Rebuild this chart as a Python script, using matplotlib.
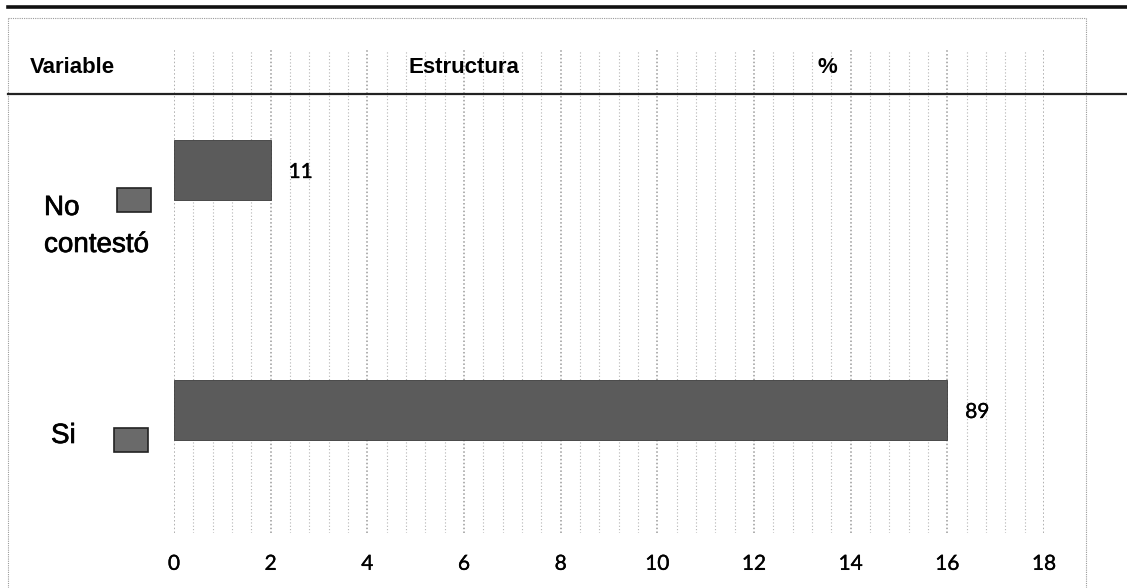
import numpy as np
import matplotlib.pyplot as plt
import matplotlib.patheffects as pe
from matplotlib.lines import Line2D
from matplotlib.patches import Rectangle

# ========================
# Data
# ========================
categories = ["Si", "No\ncontestó"]
counts = [16, 2]          # respondents per answer
percents = [89, 11]       # share of total, %
x_ticks = [0, 2, 4, 6, 8, 10, 12, 14, 16, 18]
headers = ["Variable", "Estructura", "%"]

W, H = 1127, 588
BAR_COLOR = "#5b5b5b"
GRID_COLOR = "#9a9a9a"
# slightly thicker glyphs
HEAVY = [pe.withStroke(linewidth=0.5, foreground="black")]
DIGITS = [pe.withStroke(linewidth=0.25, foreground="black")]


def px(x, y):
    """pixel position (top-left origin) -> figure fraction"""
    return x / W, 1 - y / H


fig = plt.figure(figsize=(W / 100, H / 100), dpi=100)
fig.patch.set_facecolor("white")

# plot area: x from 0 to 18, gridlines running up into the header row
left, top = px(174, 50)
right, bottom = px(1044, 533)
ax = fig.add_axes([left, bottom, right - left, top - bottom])

y_pos = np.arange(len(categories))
ax.barh(y_pos, counts, height=0.25, color=BAR_COLOR, edgecolor="#3a3a3a",
        linewidth=0.6, zorder=3)

for y, c, p in zip(y_pos, counts, percents):
    ax.text(c + 0.37, y, str(p), va="center_baseline", ha="left",
            fontsize=15, family="Lato", color="black", zorder=4,
            path_effects=DIGITS)

ax.set_xlim(0, 18)
ax.set_ylim(-0.5125, 1.5)

# dotted vertical grid: light every 0.4, a bit heavier on the labelled ticks
ax.set_xticks(x_ticks)
ax.set_xticks(np.arange(0, 18.01, 0.4), minor=True)
ax.grid(True, axis="x", which="minor", linestyle=(0, (1, 2)),
        color="#b5b5b5", linewidth=0.8, zorder=1)
ax.grid(True, axis="x", which="major", linestyle=(0, (1, 1.5)),
        color=GRID_COLOR, linewidth=1.1, zorder=1)
ax.set_yticks([])
ax.tick_params(axis="x", which="both", length=0, pad=15, labelsize=15)
for lbl in ax.get_xticklabels():
    lbl.set_family("Lato")
    lbl.set_path_effects(DIGITS)
for s in ax.spines.values():
    s.set_visible(False)
ax.set_facecolor("none")

# ========================
# Table frame and header
# ========================
fl, ft = px(8, 18)
fr, _ = px(1086, 18)
frame_kw = dict(color="#9a9a9a", linewidth=0.8, linestyle=(0, (1, 1)))
fig.add_artist(Line2D([fl, fr], [ft, ft], **frame_kw))
fig.add_artist(Line2D([fl, fl], [ft, 0], **frame_kw))
fig.add_artist(Line2D([fr, fr], [ft, 0], **frame_kw))

x0, y_top = px(8, 7)
fig.add_artist(Line2D([x0, 1], [y_top, y_top], color="#111111", linewidth=2.6))
_, y_head = px(0, 94)
fig.add_artist(Line2D([x0, 1], [y_head, y_head], color="#222222", linewidth=1.6))

for txt, hx in zip(headers, [30, 408, 818]):
    fx, fy = px(hx, 73)
    fig.text(fx, fy, txt, ha="left", va="baseline", fontsize=16,
             fontweight="bold", family="Liberation Sans")

# category labels with their legend swatches
label_pos = {"No\ncontestó": (44, 215), "Si": (51, 443)}
swatch_pos = {"No\ncontestó": (117, 188), "Si": (114, 428)}
for cat in categories:
    lx, ly = px(*label_pos[cat])
    first, *rest = cat.split("\n")
    fig.text(lx, ly, first, ha="left", va="baseline", fontsize=20,
             family="Liberation Sans", path_effects=HEAVY)
    for i, line in enumerate(rest, start=1):
        _, ly2 = px(label_pos[cat][0], label_pos[cat][1] + 37 * i)
        fig.text(lx, ly2, line, ha="left", va="baseline", fontsize=20,
                 family="Liberation Sans", path_effects=HEAVY)
    sx, sy = swatch_pos[cat]
    rx, ry = px(sx, sy + 24)
    fig.add_artist(Rectangle((rx, ry), 34 / W, 24 / H, transform=fig.transFigure,
                             facecolor="#6a6a6a", edgecolor="#222222",
                             linewidth=1.2))

fig.savefig("out.png", dpi=100)
